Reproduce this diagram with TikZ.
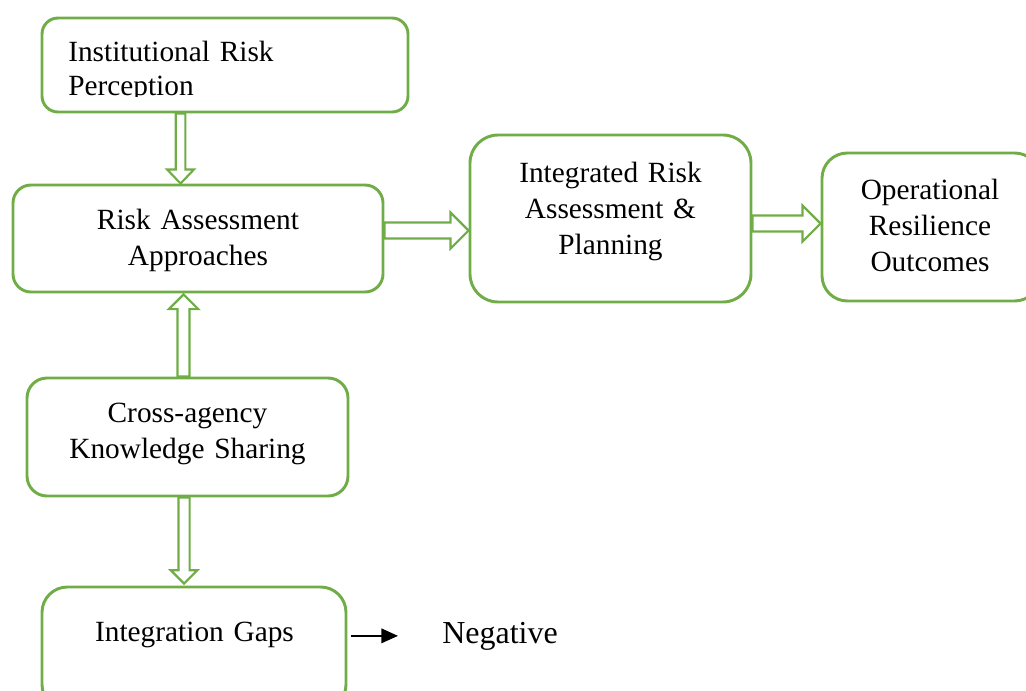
\documentclass[tikz,border=0pt]{standalone}
\usepackage{fontspec}
\setmainfont{Liberation Serif}
\usetikzlibrary{calc,arrows.meta}
\definecolor{leaf}{HTML}{70AD47}

% hollow block arrow from #1 to #2: half shaft width #3, half head width #4, head length #5
\newcommand\hollowarrow[5]{%
  \coordinate (hb) at ($(#2)!#5!(#1)$);
  \draw[fatarrow] ($(#1)!#3!90:(#2)$) -- ($(hb)!#3!90:(#2)$) -- ($(hb)!#4!90:(#2)$)
    -- (#2) -- ($(hb)!#4!-90:(#2)$) -- ($(hb)!#3!-90:(#2)$) -- ($(#1)!#3!-90:(#2)$) -- cycle;
}

\begin{document}
\begin{tikzpicture}[x=0.75pt,y=-0.75pt,
  box/.style={draw=leaf, line width=2.2pt, fill=white, inner sep=0pt, rectangle},
  fatarrow/.style={draw=leaf, line width=1.6pt, fill=white, line join=miter},
  txt/.style={inner sep=0pt, font=\fontsize{22}{27}\selectfont, text width=330pt, align=center, anchor=base},
  blackarrow/.style={line width=1pt, -{Triangle[length=12.5pt,width=11pt]}}]
\useasboundingbox (0,0) rectangle (1026,690);
\clip (0,0) rectangle (1026,690);

% boxes
\node[box, rounded corners=12pt, minimum width=274.5pt, minimum height=70.5pt] (b1) at (225,65) {};
\node[box, rounded corners=13.5pt, minimum width=277.5pt, minimum height=80.25pt] (b2) at (198,238.5) {};
\node[box, rounded corners=21pt, minimum width=210.75pt, minimum height=125.25pt] (b3) at (610.5,218.5) {};
\node[box, rounded corners=19pt, minimum width=163.5pt, minimum height=111pt] (b4) at (931,227) {};
\node[box, rounded corners=15pt, minimum width=240.75pt, minimum height=88.5pt] (b5) at (187.5,437) {};
\node[box, rounded corners=19pt, minimum width=228pt, minimum height=92.25pt] (b6) at (194,648.5) {};

% texts
\begin{scope}
  \clip (42,18) rectangle (408,96);
  \node[txt, align=left, anchor=base west, font=\fontsize{22}{25.5}\selectfont] (t1) at (68,61)
    {Institutional Risk\\Perception};
\end{scope}
\node[txt] (t2) at (198,229) {Risk Assessment\\Approaches};
\node[txt] (t3) at (610.5,182) {Integrated Risk\\Assessment \&\\Planning};
\node[txt] (t4) at (930,199) {Operational\\Resilience\\Outcomes};
\node[txt] (t5) at (187.5,422) {Cross-agency\\Knowledge Sharing};
\node[txt] (t6) at (194.5,641) {Integration Gaps};
\node[inner sep=0pt, font=\fontsize{24}{28}\selectfont, anchor=base west] (neg) at (442,643) {Negative};

% block arrows between the boxes
\coordinate (a1s) at ($(b1.south west)+(140,0)$);
\coordinate (a1e) at (a1s |- b2.north);
\hollowarrow{a1s}{a1e}{3.6pt}{10pt}{10.5pt}

\coordinate (a2s) at ($(b5.north west)+(158,0)$);
\coordinate (a2e) at ($(a2s |- b2.south)+(0,1)$);
\hollowarrow{a2s}{a2e}{4.5pt}{11pt}{11pt}

\coordinate (a3s) at ($(b2.north east)+(0,47)$);
\coordinate (a3e) at (a3s -| b3.west);
\hollowarrow{a3s}{a3e}{6pt}{13.5pt}{13.5pt}

\coordinate (a4s) at ($(b3.north east)+(0,90)$);
\coordinate (a4e) at (a4s -| b4.west);
\hollowarrow{a4s}{a4e}{6pt}{13.5pt}{13.5pt}

\coordinate (a5s) at ($(b5.south west)+(158.5,0)$);
\coordinate (a5e) at ($(a5s |- b6.north)+(0,-2)$);
\hollowarrow{a5s}{a5e}{4.2pt}{10pt}{10pt}

% plain arrow to the label
\draw[blackarrow] ($(b6.east |- neg.west)+(4,0)$) -- ($(neg.west)+(-44,0)$);
\end{tikzpicture}
\end{document}
